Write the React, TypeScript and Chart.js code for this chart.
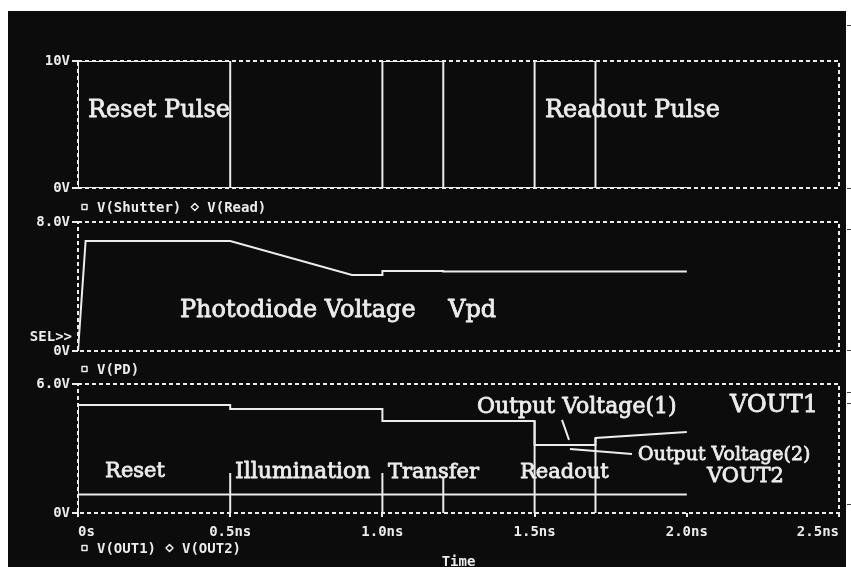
import React, { useEffect, useRef } from "react";
import { Chart, registerables } from "chart.js";

Chart.register(...registerables);

// ---------------- data ----------------
const xTickValues = [0, 0.5, 1.0, 1.5, 2.0, 2.5];
const xTickLabels = ["0s", "0.5ns", "1.0ns", "1.5ns", "2.0ns", "2.5ns"];

const pulseTicks = [0, 10];
const pulseTickLabels = ["0V", "10V"];
const pdTicks = [0, 8];
const pdTickLabels = ["0V", "8.0V"];
const outTicks = [0, 6];
const outTickLabels = ["0V", "6.0V"];

// V(Shutter)
const shutterTime = [0, 0, 0.5, 0.5, 2.0];
const shutterVolt = [0, 10, 10, 0, 0];
// V(Read)
const readTime = [0, 1.0, 1.0, 1.2, 1.2, 1.5, 1.5, 1.7, 1.7, 2.0];
const readVolt = [0, 0, 10, 10, 0, 0, 10, 10, 0, 0];
// V(PD)
const pdTime = [0, 0.025, 0.5, 0.9, 1.0, 1.0, 1.2, 1.2, 2.0];
const pdVolt = [0, 6.82, 6.82, 4.71, 4.71, 4.96, 4.96, 4.93, 4.93];
// V(OUT1)
const out1Time = [0, 0, 0.5, 0.5, 1.0, 1.0, 1.5, 1.5, 1.7, 1.7, 2.0];
const out1Volt = [0, 5.02, 5.02, 4.84, 4.84, 4.28, 4.28, 3.16, 3.16, 3.49, 3.77];
// V(OUT2)
const out2Time = [0, 0.5, 0.5, 0.5, 0.5, 1.0, 1.0, 1.0, 1.0, 1.2, 1.2, 1.2, 1.2, 1.5, 1.5, 1.5, 1.5, 1.7, 1.7, 1.7, 1.7, 2.0];
const out2Volt = [0.86, 0.86, 1.86, 0, 0.86, 0.86, 1.86, 0, 0.86, 0.86, 1.67, 0, 0.86, 0.86, 4.28, 0, 0.86, 0.86, 3.49, 0, 0.86, 0.86];

// annotation texts (anchored in data coordinates: time in ns, volts)
const pulseNotes = [
  { text: "Reset Pulse", t: 0.033, v: 5.59, size: 24 },
  { text: "Readout Pulse", t: 1.534, v: 5.59, size: 24 },
];
const pdNotes = [
  { text: "Photodiode Voltage", t: 0.335, v: 2.11, size: 24 },
  { text: "Vpd", t: 1.216, v: 2.11, size: 24 },
];
const outNotes = [
  { text: "Reset", t: 0.089, v: 1.67, size: 21 },
  { text: "Illumination", t: 0.516, v: 1.63, size: 22 },
  { text: "Transfer", t: 1.018, v: 1.63, size: 21 },
  { text: "Readout", t: 1.452, v: 1.63, size: 21 },
  { text: "Output Voltage(1)", t: 1.311, v: 4.65, size: 22 },
  { text: "VOUT1", t: 2.142, v: 4.7, size: 24 },
  { text: "Output Voltage(2)", t: 1.84, v: 2.47, size: 19 },
  { text: "VOUT2", t: 2.066, v: 1.44, size: 21 },
];
const outPointers = [
  { t1: 1.59, v1: 4.33, t2: 1.613, v2: 3.4 },
  { t1: 1.616, v1: 2.98, t2: 1.82, v2: 2.74 },
];
const pdSideLabels = [{ text: "SEL>>", v: 0.87 }];

// ---------------- styles ----------------
const INK = "#ececec";
const MONO = '"DejaVu Sans Mono", monospace';
const SERIF = '"DejaVu Serif", serif';

type Series = { label: string; marker: string; t: number[]; v: number[] };
type Spec = {
  top: number;
  height: number;
  padTop: number;
  padBottom: number;
  yMax: number;
  yTicks: number[];
  yLabels: string[];
  series: Series[];
  notes: { text: string; t: number; v: number; size: number }[];
  pointers: { t1: number; v1: number; t2: number; v2: number }[];
  side: { text: string; v: number }[];
  legendDy: number;
  showX: boolean;
};

const panels: Spec[] = [
  {
    top: 0, height: 218, padTop: 61, padBottom: 30, yMax: 10,
    yTicks: pulseTicks, yLabels: pulseTickLabels,
    series: [
      { label: "V(Shutter)", marker: "square", t: shutterTime, v: shutterVolt },
      { label: "V(Read)", marker: "diamond", t: readTime, v: readVolt },
    ],
    notes: pulseNotes, pointers: [], side: [], legendDy: 19, showX: false,
  },
  {
    top: 210, height: 170, padTop: 12, padBottom: 29, yMax: 8,
    yTicks: pdTicks, yLabels: pdTickLabels,
    series: [{ label: "V(PD)", marker: "square", t: pdTime, v: pdVolt }],
    notes: pdNotes, pointers: [], side: pdSideLabels, legendDy: 18, showX: false,
  },
  {
    top: 372, height: 195, padTop: 12, padBottom: 0, yMax: 6,
    yTicks: outTicks, yLabels: outTickLabels,
    series: [
      { label: "V(OUT1)", marker: "square", t: out1Time, v: out1Volt },
      { label: "V(OUT2)", marker: "diamond", t: out2Time, v: out2Volt },
    ],
    notes: outNotes, pointers: outPointers, side: [], legendDy: 35, showX: true,
  },
];

function makeScopePlugin(spec: Spec) {
  return {
    id: "scope",
    beforeDatasetsDraw(chart: any) {
      const { ctx, chartArea } = chart;
      const { left, top, right, bottom } = chartArea;
      ctx.save();
      ctx.strokeStyle = INK;
      ctx.lineWidth = 2;
      ctx.setLineDash([4, 3]);
      ctx.strokeRect(left, top, right - left, bottom - top);
      ctx.restore();
    },
    afterDatasetsDraw(chart: any) {
      const { ctx, chartArea } = chart;
      const xs = chart.scales.x;
      const ys = chart.scales.y;
      ctx.save();
      ctx.fillStyle = INK;
      ctx.strokeStyle = INK;
      // annotation text (regular face, lightly emboldened)
      ctx.textAlign = "left";
      ctx.textBaseline = "alphabetic";
      ctx.lineWidth = 0.8;
      ctx.lineJoin = "round";
      spec.notes.forEach((n) => {
        ctx.font = `${n.size}px ${SERIF}`;
        const px = xs.getPixelForValue(n.t);
        const py = ys.getPixelForValue(n.v);
        ctx.fillText(n.text, px, py);
        ctx.strokeText(n.text, px, py);
      });
      // pointer lines
      ctx.lineWidth = 2;
      spec.pointers.forEach((p) => {
        ctx.beginPath();
        ctx.moveTo(xs.getPixelForValue(p.t1), ys.getPixelForValue(p.v1));
        ctx.lineTo(xs.getPixelForValue(p.t2), ys.getPixelForValue(p.v2));
        ctx.stroke();
      });
      // side labels (cursor marker)
      ctx.font = `bold 14px ${MONO}`;
      ctx.textAlign = "right";
      ctx.textBaseline = "middle";
      spec.side.forEach((s) => {
        ctx.fillText(s.text, chartArea.left - 6, ys.getPixelForValue(s.v));
      });
      // legend below the plot
      ctx.textAlign = "left";
      const ly = chartArea.bottom + spec.legendDy;
      let lx = chartArea.left + 6.5;
      ctx.lineWidth = 1.5;
      chart.data.datasets.forEach((ds: any) => {
        ctx.beginPath();
        if (ds.marker === "diamond") {
          ctx.moveTo(lx, ly - 3.5);
          ctx.lineTo(lx + 3.5, ly);
          ctx.lineTo(lx, ly + 3.5);
          ctx.lineTo(lx - 3.5, ly);
          ctx.closePath();
        } else {
          ctx.rect(lx - 2.5, ly - 2.5, 5, 5);
        }
        ctx.stroke();
        lx += 12.5;
        ctx.fillText(ds.label, lx, ly + 1);
        lx += ctx.measureText(ds.label).width + 13.5;
      });
      ctx.restore();
    },
  };
}

function Panel({ spec }: { spec: Spec }) {
  const ref = useRef<HTMLCanvasElement | null>(null);
  useEffect(() => {
    const canvas = ref.current;
    if (!canvas) return;
    const chart = new Chart(canvas, {
      type: "line",
      data: {
        datasets: spec.series.map((s) => ({
          label: s.label,
          marker: s.marker,
          data: s.t.map((t, i) => ({ x: t, y: s.v[i] })),
          borderColor: INK,
          borderWidth: 2,
          pointRadius: 0,
          tension: 0,
          fill: false,
        })) as any,
      },
      options: {
        animation: false,
        responsive: false,
        devicePixelRatio: 1,
        events: [],
        layout: { padding: { top: spec.padTop, bottom: spec.padBottom, left: 0, right: 12 } },
        plugins: { legend: { display: false }, tooltip: { enabled: false } },
        scales: {
          x: {
            type: "linear",
            min: 0,
            max: 2.5,
            display: spec.showX,
            afterBuildTicks: (s: any) => {
              s.ticks = xTickValues.map((v) => ({ value: v }));
            },
            afterFit: (s: any) => {
              s.height = spec.showX ? 54 : 0;
            },
            ticks: {
              align: "inner",
              autoSkip: false,
              maxRotation: 0,
              color: INK,
              padding: 7,
              font: { family: MONO, size: 14, weight: "bold" },
              callback: (_v: any, i: number) => xTickLabels[i],
            },
            grid: { drawOnChartArea: false, tickLength: 4, color: INK, lineWidth: 2 },
            border: { display: false },
            title: {
              display: true,
              text: "Time",
              color: INK,
              padding: 0,
              font: { family: MONO, size: 14, weight: "bold", lineHeight: 0.7 },
            },
          },
          y: {
            type: "linear",
            min: 0,
            max: spec.yMax,
            afterBuildTicks: (s: any) => {
              s.ticks = spec.yTicks.map((v) => ({ value: v }));
            },
            afterFit: (s: any) => {
              s.width = 78;
            },
            ticks: {
              autoSkip: false,
              color: INK,
              padding: 2,
              font: { family: MONO, size: 14, weight: "bold" },
              callback: (_v: any, i: number) => spec.yLabels[i],
            },
            grid: { drawOnChartArea: false, tickLength: 6, color: INK, lineWidth: 2 },
            border: { display: false },
          },
        },
      } as any,
      plugins: [makeScopePlugin(spec)],
    });
    return () => chart.destroy();
  }, [spec]);
  return (
    <canvas
      ref={ref}
      width={851}
      height={spec.height}
      style={{ position: "absolute", left: 0, top: spec.top, width: 851, height: spec.height }}
    />
  );
}

const edgeMarks = [25, 188, 229, 350, 392, 403, 504];

export default function App() {
  return (
    <div
      style={{
        position: "absolute",
        left: 0,
        top: 0,
        width: 851,
        height: 567,
        background: "#ffffff",
        overflow: "hidden",
      }}
    >
      <div style={{ position: "absolute", left: 8, top: 11, width: 838, height: 556, background: "#0c0c0c" }} />
      {edgeMarks.map((y) => (
        <div key={y} style={{ position: "absolute", left: 847, top: y, width: 4, height: 1, background: "#444" }} />
      ))}
      {panels.map((p, i) => (
        <Panel key={i} spec={p} />
      ))}
    </div>
  );
}
